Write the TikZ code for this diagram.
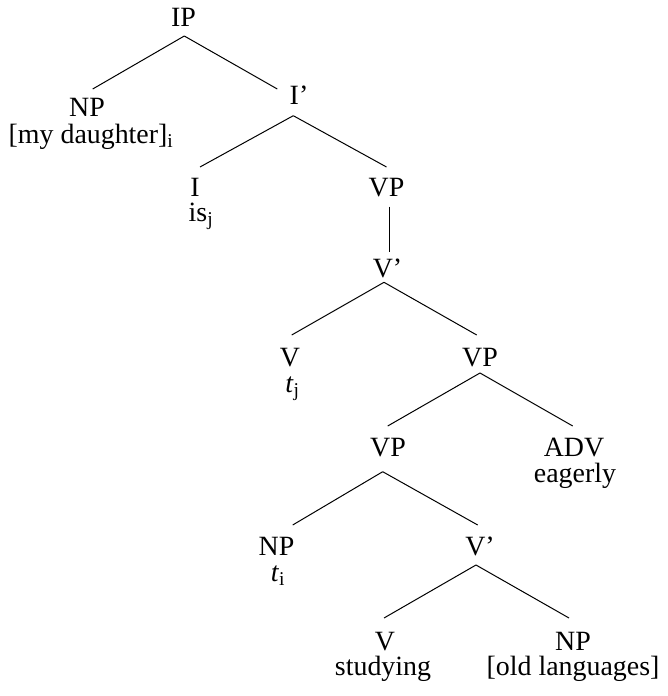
\documentclass[tikz,border=0pt]{standalone}
\usepackage{fontspec}
\setmainfont{Liberation Serif}
\usetikzlibrary{calc}
\begin{document}
\begin{tikzpicture}[x=1bp,y=-1bp,
  lbl/.style={font=\fontsize{28}{30}\selectfont, inner sep=0pt, anchor=base},
  branch/.style={line width=1bp, black}]
\useasboundingbox (0,0) rectangle (668,696);

% category labels
\node[lbl] (ip)   at (183.5,27)  {IP};
\node[lbl] (np1)  at (87,117)    {NP};
\node[lbl] (ib)   at (299,105)   {I’};
\node[lbl] (i)    at (195,196)   {I};
\node[lbl] (vp1)  at (386.5,196) {VP};
\node[lbl] (vb1)  at (387.5,277) {V’};
\node[lbl] (v1)   at (290,366)   {V};
\node[lbl] (vp2)  at (480,366)   {VP};
\node[lbl] (vp3)  at (388,456)   {VP};
\node[lbl] (adv)  at (574,456)   {ADV};
\node[lbl] (np2)  at (276.5,555) {NP};
\node[lbl] (vb2)  at (480,555)   {V’};
\node[lbl] (v3)   at (385,650)   {V};
\node[lbl] (np3)  at (573,650)   {NP};

% words under the labels
\node[lbl] (wnp1) at (91,143)    {[my daughter]\textsubscript{i}};
\node[lbl] (wi)   at (201,221)   {is\textsubscript{j}};
\node[lbl] (wv1)  at (292.5,392) {\textit{t}\textsubscript{j}};
\node[lbl] (wadv) at (575,482)   {eagerly};
\node[lbl] (wnp2) at (278,581)   {\textit{t}\textsubscript{i}};
\node[lbl] (wv3)  at (383,675)   {studying};
\node[lbl] (wnp3) at (573,675)   {[old languages]};

% branches
\draw[branch] ($(ip.base)+(0.8,9)$)    -- ($(np1.base)+(5.7,-28)$);
\draw[branch] ($(ip.base)+(0.8,9)$)    -- ($(ib.base)+(-21.7,-16)$);
\draw[branch] ($(ib.base)+(-5.7,10.7)$) -- ($(i.base)+(5,-29)$);
\draw[branch] ($(ib.base)+(-5.7,10.7)$) -- ($(vp1.base)+(0,-29)$);
\draw[branch] ($(vp1.base)+(2.5,10.7)$) -- ($(vb1.base)+(1.5,-25.3)$);
\draw[branch] ($(vb1.base)+(-3.5,5.3)$) -- ($(v1.base)+(1.7,-31)$);
\draw[branch] ($(vb1.base)+(-3.5,5.3)$) -- ($(vp2.base)+(-3.3,-31)$);
\draw[branch] ($(vp2.base)+(0,7)$)      -- ($(vp3.base)+(-0.3,-30)$);
\draw[branch] ($(vp2.base)+(0,7)$)      -- ($(adv.base)+(-1.3,-30)$);
\draw[branch] ($(vp3.base)+(-5.3,15.7)$) -- ($(np2.base)+(16.2,-30)$);
\draw[branch] ($(vp3.base)+(-5.3,15.7)$) -- ($(vb2.base)+(-2.3,-30)$);
\draw[branch] ($(vb2.base)+(-4,10)$)    -- ($(v3.base)+(-1,-32)$);
\draw[branch] ($(vb2.base)+(-4,10)$)    -- ($(np3.base)+(-4,-32)$);
\end{tikzpicture}
\end{document}
